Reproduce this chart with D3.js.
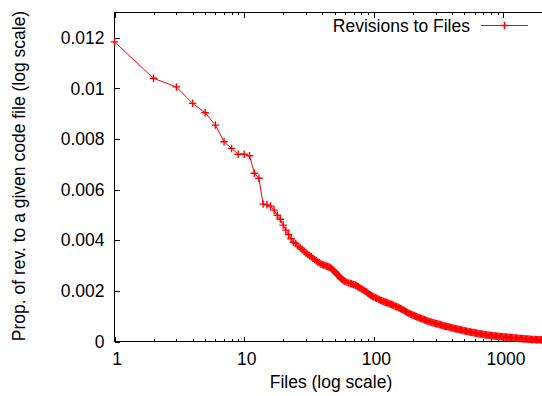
<!DOCTYPE html>
<html>
<head>
<meta charset="utf-8">
<script src="https://cdn.jsdelivr.net/npm/d3@7"></script>
<style>
    body { margin: 0; background: #fff; }
    svg text { font-family: "Liberation Sans", Arial, sans-serif; font-size: 17.5px; fill: #000; }
</style>
</head>
<body>
<svg id="chart" width="542" height="396"></svg>
<script>
//Number of files (x) and proportion of revisions to a given file (y)
const files = [
    1, 2, 3, 4, 5, 6, 7, 8, 9, 10, 11, 12, 13, 14, 15, 16, 17, 18, 19, 20,
    21, 22, 23, 24, 25, 26, 27, 28, 29, 30, 31, 32, 33, 34, 35, 36, 37, 38, 39, 40,
    41, 42, 43, 44, 45, 46, 47, 48, 49, 50, 51, 52, 53, 54, 55, 56, 57, 58, 59, 60,
    62, 64, 66, 67, 69, 70, 72, 73, 75, 76, 78, 80, 82, 84, 86, 88, 90, 92, 94, 96,
    98, 100, 103, 105, 108, 110, 113, 115, 118, 120, 123, 125, 128, 131, 134, 137, 140, 143, 147, 150,
    154, 157, 161, 164, 168, 171, 175, 179, 183, 187, 192, 196, 201, 205, 210, 214, 219, 224, 229, 234,
    240, 245, 251, 256, 262, 267, 274, 280, 286, 292, 299, 305, 312, 319, 327, 334, 342, 349, 357, 365,
    373, 381, 390, 399, 408, 417, 427, 436, 446, 455, 466, 476, 487, 498, 509, 520, 532, 544, 556, 568,
    581, 594, 608, 621, 635, 649, 664, 679, 694, 709, 726, 742, 759, 775, 793, 810, 829, 847, 866, 885,
    905, 925, 946, 967, 989, 1011, 1034, 1057, 1081, 1105, 1130, 1155, 1181, 1207, 1234, 1262, 1290, 1319, 1349, 1379,
    1410, 1441, 1474, 1506, 1540, 1575, 1610, 1646, 1683, 1720, 1759, 1798, 1839, 1880, 1922, 1965
];
const propRevisions = [
    0.01184, 0.01040, 0.01006, 0.00941, 0.00904, 0.00855, 0.00789, 0.00763, 0.00740, 0.00740,
    0.00734, 0.00665, 0.00645, 0.00543, 0.00540, 0.00535, 0.00519, 0.00499, 0.00483, 0.00460,
    0.00440, 0.00423, 0.00406, 0.00392, 0.00387, 0.00377, 0.00370, 0.00364, 0.00357, 0.00350,
    0.003439, 0.003391, 0.003344, 0.003289, 0.003237, 0.003190, 0.003146, 0.003107, 0.003067, 0.003047,
    0.003024, 0.003004, 0.002980, 0.002960, 0.002941, 0.002921, 0.002885, 0.002842, 0.002802, 0.002759,
    0.002715, 0.002664, 0.002617, 0.002565, 0.002518, 0.002482, 0.002455, 0.002427, 0.002399, 0.002375,
    0.002345, 0.002312, 0.002290, 0.002277, 0.002260, 0.002245, 0.002224, 0.002209, 0.002180, 0.002158,
    0.002122, 0.002087, 0.002054, 0.002020, 0.001987, 0.001953, 0.001910, 0.001870, 0.001838, 0.001806,
    0.001785, 0.001763, 0.001730, 0.001708, 0.001680, 0.001656, 0.001633, 0.001613, 0.001592, 0.001573,
    0.001555, 0.001538, 0.001518, 0.001498, 0.001478, 0.001458, 0.001438, 0.001419, 0.001395, 0.001372,
    0.001350, 0.001328, 0.001302, 0.001277, 0.001249, 0.001221, 0.001195, 0.001170, 0.001140, 0.001111,
    0.001085, 0.001059, 0.001040, 0.001020, 0.001000, 0.000980, 0.000960, 0.000941, 0.000921, 0.000901,
    0.000880, 0.000858, 0.000838, 0.000818, 0.000802, 0.000787, 0.000773, 0.000759, 0.000745, 0.000731,
    0.000715, 0.000700, 0.000688, 0.000676, 0.000660, 0.000644, 0.000630, 0.000617, 0.000605, 0.000593,
    0.000583, 0.000573, 0.000557, 0.000542, 0.000528, 0.000514, 0.000502, 0.000490, 0.000480, 0.000470,
    0.000460, 0.000451, 0.000439, 0.000427, 0.000415, 0.000403, 0.000393, 0.000383, 0.000373, 0.000364,
    0.000354, 0.000344, 0.000334, 0.000324, 0.000316, 0.000308, 0.000300, 0.000292, 0.000282, 0.000273,
    0.000265, 0.000257, 0.000251, 0.000245, 0.000239, 0.000233, 0.000227, 0.000221, 0.000215, 0.000209,
    0.000205, 0.000202, 0.000196, 0.000190, 0.000186, 0.000182, 0.000176, 0.000170, 0.000166, 0.000162,
    0.000156, 0.000150, 0.000146, 0.000142, 0.000136, 0.000130, 0.000126, 0.000123, 0.000119, 0.000115,
    0.000111, 0.000107, 0.000103, 0.000099, 0.000095, 0.000091, 0.000087, 0.000083, 0.000081, 0.000079,
    0.000075, 0.000071, 0.000069, 0.000067, 0.000065, 0.000063
];

const xMajorTicks = [1, 10, 100, 1000];
const xMinorTicks = [2, 3, 4, 5, 6, 7, 8, 9, 20, 30, 40, 50, 60, 70, 80, 90,
                     200, 300, 400, 500, 600, 700, 800, 900, 2000];
const yTicks = [0, 0.002, 0.004, 0.006, 0.008, 0.01, 0.012];

const seriesName = "Revisions to Files";
const xTitle = "Files (log scale)";
const yTitle = "Prop. of rev. to a given code file (log scale)";

let margin = {top: 12.5, left: 114.5, bottom: 341.5, right: 542.5};

let svg = d3.select("#chart");

let xScale = d3.scaleLog()
    .domain([1, 2000])
    .range([margin.left, margin.right]);

let yScale = d3.scaleLinear()
    .domain([0, 0.013])
    .range([margin.bottom, margin.top]);

let data = files.map((f, i) => ({files: f, prop: propRevisions[i]}));

//Frame
svg.append("rect")
    .attr("x", margin.left)
    .attr("y", margin.top)
    .attr("width", margin.right - margin.left + 4)
    .attr("height", margin.bottom - margin.top)
    .attr("fill", "none")
    .attr("stroke", "#000")
    .attr("stroke-width", 1);

function styleAxis(g)
{
    g.select(".domain").remove();
    g.selectAll(".tick line").attr("stroke", "#000").attr("shape-rendering", "crispEdges");
    g.attr("font-family", null).attr("font-size", null);
}

//Bottom x axis, major ticks with labels
svg.append("g")
    .attr("transform", "translate(0," + margin.bottom + ")")
    .call(d3.axisBottom(xScale).tickValues(xMajorTicks).tickSize(-5).tickPadding(11).tickFormat(d3.format("d")))
    .call(styleAxis)
    .selectAll("text")
    .attr("dx", "2");

//Bottom x axis, minor ticks
svg.append("g")
    .attr("transform", "translate(0," + margin.bottom + ")")
    .call(d3.axisBottom(xScale).tickValues(xMinorTicks).tickSize(-2.5).tickFormat(""))
    .call(styleAxis);

//Top mirror ticks
svg.append("g")
    .attr("transform", "translate(0," + margin.top + ")")
    .call(d3.axisTop(xScale).tickValues(xMajorTicks).tickSize(-5).tickFormat(""))
    .call(styleAxis);

svg.append("g")
    .attr("transform", "translate(0," + margin.top + ")")
    .call(d3.axisTop(xScale).tickValues(xMinorTicks).tickSize(-2.5).tickFormat(""))
    .call(styleAxis);

//Left y axis
svg.append("g")
    .attr("transform", "translate(" + margin.left + ",0)")
    .call(d3.axisLeft(yScale).tickValues(yTicks).tickSize(-5).tickPadding(10)
        .tickFormat(d => String(+d.toFixed(3))))
    .call(styleAxis);

//Axis titles
svg.append("text")
    .attr("x", 331)
    .attr("y", 388)
    .attr("text-anchor", "middle")
    .text(xTitle);

svg.append("text")
    .attr("transform", "translate(25,176) rotate(-90)")
    .attr("text-anchor", "middle")
    .text(yTitle);

//Series line
let line = d3.line()
    .x(d => xScale(d.files))
    .y(d => yScale(d.prop));

let plot = svg.append("g");

plot.append("path")
    .datum(data)
    .attr("fill", "none")
    .attr("stroke", "#ff0000")
    .attr("stroke-width", 1)
    .attr("d", line);

//Point markers (+)
const cross = "M-3.75,0H3.75M0,-3.75V3.75";

plot.selectAll(".pt")
    .data(data)
    .enter().append("path")
    .attr("class", "pt")
    .attr("transform", d => "translate(" + xScale(d.files) + "," + yScale(d.prop) + ")")
    .attr("d", cross)
    .attr("fill", "none")
    .attr("stroke", "#ff0000")
    .attr("stroke-width", 1.4);

//Legend
let legend = svg.append("g");

legend.append("text")
    .attr("x", 470)
    .attr("y", 32)
    .attr("text-anchor", "end")
    .text(seriesName);

legend.append("line")
    .attr("x1", 481)
    .attr("x2", 528)
    .attr("y1", 25.5)
    .attr("y2", 25.5)
    .attr("stroke", "#ff0000")
    .attr("stroke-width", 1);

legend.append("path")
    .attr("transform", "translate(504.5,25.5)")
    .attr("d", cross)
    .attr("fill", "none")
    .attr("stroke", "#ff0000")
    .attr("stroke-width", 1.4);
</script>
</body>
</html>
